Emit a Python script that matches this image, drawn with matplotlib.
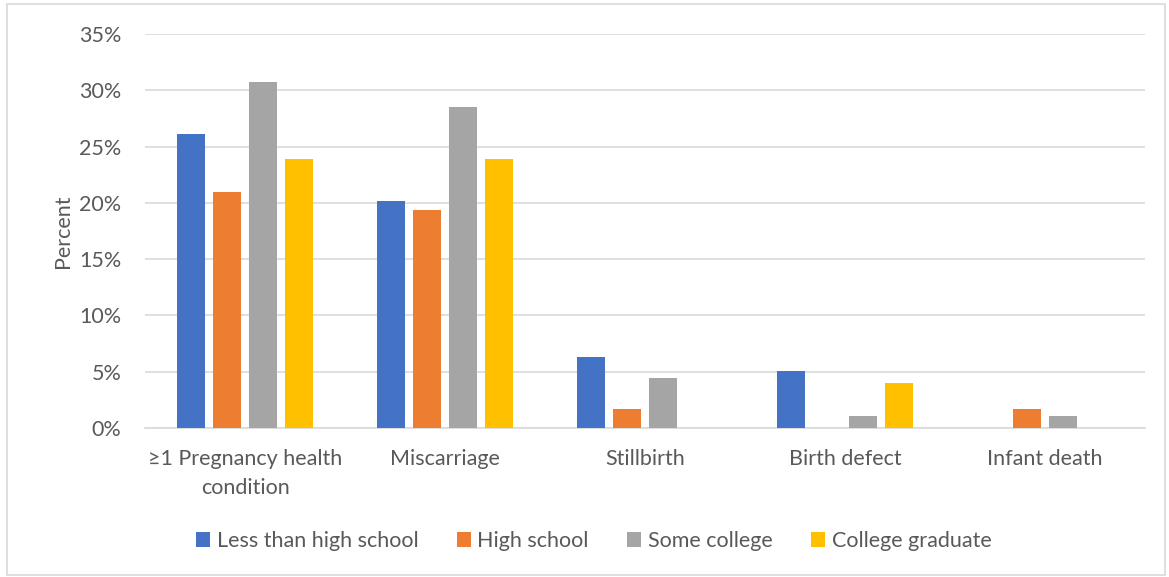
import numpy as np
import matplotlib.pyplot as plt
from matplotlib.patches import Rectangle
from matplotlib.ticker import FuncFormatter

plt.rcParams['font.family'] = ['Lato', 'DejaVu Sans']

categories = ['≥1 Pregnancy health\ncondition', 'Miscarriage', 'Stillbirth',
              'Birth defect', 'Infant death']
series = ['Less than high school', 'High school', 'Some college', 'College graduate']
colors = ['#4472c4', '#ed7d31', '#a5a5a5', '#ffc000']

less_hs = [26.1, 20.2, 6.3, 5.1, 0.0]
high_school = [21.0, 19.4, 1.7, 0.0, 1.7]
some_college = [30.7, 28.5, 4.4, 1.1, 1.1]
college_grad = [23.9, 23.9, 0.0, 4.0, 0.0]
values = [less_hs, high_school, some_college, college_grad]

text_col = '#595959'
grid_col = '#d9d9d9'
fs = 15.5

fig = plt.figure(figsize=(11.69, 5.77), dpi=100)
ax = fig.add_axes([145 / 1169, 1 - 428 / 577, 1000 / 1169, 394 / 577])

x = np.arange(len(categories))
width = 0.14
step = 0.18
for i, (name, vals) in enumerate(zip(series, values)):
    offs = (i - 1.5) * step
    ax.bar(x + offs, vals, width, color=colors[i], label=name, zorder=3)

ax.set_xlim(-0.5, len(categories) - 0.5)
ax.set_ylim(0, 35)
ax.set_yticks(np.arange(0, 36, 5))
ax.yaxis.set_major_formatter(FuncFormatter(lambda v, p: f'{v:.0f}%'))
ax.grid(axis='y', color=grid_col, linewidth=1.2, zorder=0)
for s in ['top', 'right', 'left']:
    ax.spines[s].set_visible(False)
ax.spines['bottom'].set_color(grid_col)
ax.spines['bottom'].set_linewidth(1.2)
ax.tick_params(axis='both', length=0, labelsize=fs, colors=text_col)
ax.tick_params(axis='y', pad=17)
ax.tick_params(axis='x', pad=15)
ax.set_xticks(x)
ax.set_xticklabels(categories, linespacing=1.55)
ax.set_ylabel('Percent', fontsize=fs, color=text_col, labelpad=4)

leg = fig.legend(loc='center', bbox_to_anchor=(0.508, 1 - 541 / 577), ncol=4,
                 frameon=False, fontsize=fs, handlelength=0.65, handleheight=0.65,
                 handletextpad=0.3, columnspacing=1.8)
for t in leg.get_texts():
    t.set_color(text_col)

fig.patches.append(Rectangle((7 / 1169, 2 / 577), 1158 / 1169, 571 / 577,
                             transform=fig.transFigure, fill=False,
                             edgecolor=grid_col, linewidth=1.2))

fig.savefig('out.png', dpi=100)
